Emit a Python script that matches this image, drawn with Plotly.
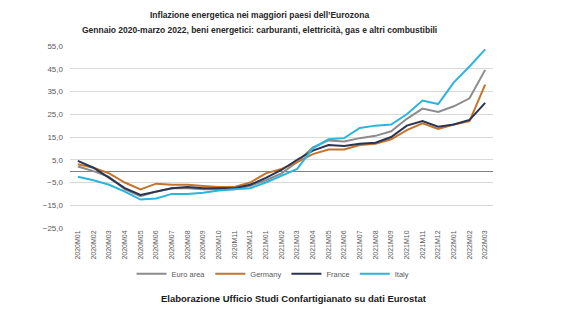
import plotly.graph_objects as go

months = ["2020M01","2020M02","2020M03","2020M04","2020M05","2020M06","2020M07","2020M08","2020M09","2020M10","2020M11","2020M12",
          "2021M01","2021M02","2021M03","2021M04","2021M05","2021M06","2021M07","2021M08","2021M09","2021M10","2021M11","2021M12",
          "2022M01","2022M02","2022M03"]

euro_area = [2.0, 0.0, -2.5, -8.0, -11.0, -9.0, -7.5, -7.5, -8.0, -8.0, -8.0, -6.5,
             -4.0, -1.0, 4.0, 10.5, 13.5, 13.0, 14.5, 15.5, 17.5, 23.0, 27.5, 26.0,
             28.5, 32.0, 44.5]
germany = [3.0, 1.5, -1.0, -5.0, -8.0, -5.5, -6.0, -6.0, -6.5, -7.0, -7.0, -5.0,
           -1.0, 1.0, 4.0, 7.5, 9.5, 9.5, 11.5, 12.0, 14.0, 18.0, 21.0, 18.5,
           20.5, 22.0, 38.0]
france = [4.5, 1.5, -3.0, -7.5, -10.5, -9.0, -7.5, -7.0, -7.5, -7.5, -7.5, -6.0,
          -3.0, 0.5, 5.0, 9.0, 11.5, 11.0, 12.0, 12.5, 15.0, 20.0, 22.0, 19.5,
          20.5, 22.5, 30.0]
italy = [-2.5, -4.0, -6.0, -9.0, -12.5, -12.0, -10.0, -10.0, -9.5, -8.5, -8.0, -7.5,
         -5.0, -2.0, 1.0, 10.0, 14.0, 14.5, 19.0, 20.0, 20.5, 25.0, 31.0, 29.5,
         39.0, 46.0, 53.5]

series = [("Euro area", euro_area, "#8c8c8c"),
          ("Germany", germany, "#c4742c"),
          ("France", france, "#2b3452"),
          ("Italy", italy, "#2cb5dc")]

title_lines = ["Inflazione energetica nei maggiori paesi dell\u2019Eurozona",
               "Gennaio 2020-marzo 2022, beni energetici: carburanti, elettricità, gas e altri combustibili"]
caption = "Elaborazione Ufficio Studi Confartigianato su dati Eurostat"

FONT = "Liberation Sans, Arial"

fig = go.Figure()
for name, vals, col in series:
    fig.add_trace(go.Scatter(x=months, y=vals, name=name, mode="lines",
                             line=dict(color=col, width=2)))

fig.update_layout(
    width=580, height=326,
    margin=dict(l=70, r=87, t=46, b=98, autoexpand=False),
    paper_bgcolor="white", plot_bgcolor="white",
    font=dict(family=FONT, color="#595959"),
    separators=",.",
    showlegend=True,
    legend=dict(orientation="h", x=0.48, xanchor="center", y=-0.252, yanchor="middle",
                font=dict(size=7.5, color="#595959"), itemwidth=30, tracegroupgap=0,
                bgcolor="rgba(0,0,0,0)"),
    xaxis=dict(type="category", tickangle=-90, tickfont=dict(size=7, color="#595959"),
               showgrid=False, showline=False, ticks="", range=[-0.5, 26.5]),
    yaxis=dict(range=[-25, 55], dtick=10, tick0=-25, tickformat=".1f",
               tickfont=dict(size=8, color="#595959"),
               showgrid=True, gridcolor="#d9d9d9", gridwidth=1,
               zeroline=True, zerolinecolor="#808080", zerolinewidth=1,
               showline=False, ticks="", ticklabelstandoff=6),
    annotations=[
        dict(text="<b>" + title_lines[0] + "</b>", x=0.449, y=1, xref="paper", yref="paper", xanchor="center", yanchor="middle",
             yshift=31, showarrow=False, font=dict(size=8.5, color="#262626", family=FONT)),
        dict(text="<b>" + title_lines[1] + "</b>", x=0.449, y=1, xref="paper", yref="paper", xanchor="center", yanchor="middle",
             yshift=16, showarrow=False, font=dict(size=8.5, color="#262626", family=FONT)),
        dict(text="<b>" + caption + "</b>", x=0.53, y=0, xref="paper", yref="paper", xanchor="center", yanchor="middle",
             yshift=-70, showarrow=False, font=dict(size=9.5, color="#1a1a1a", family=FONT)),
    ],
)

fig.write_html("out.html")
